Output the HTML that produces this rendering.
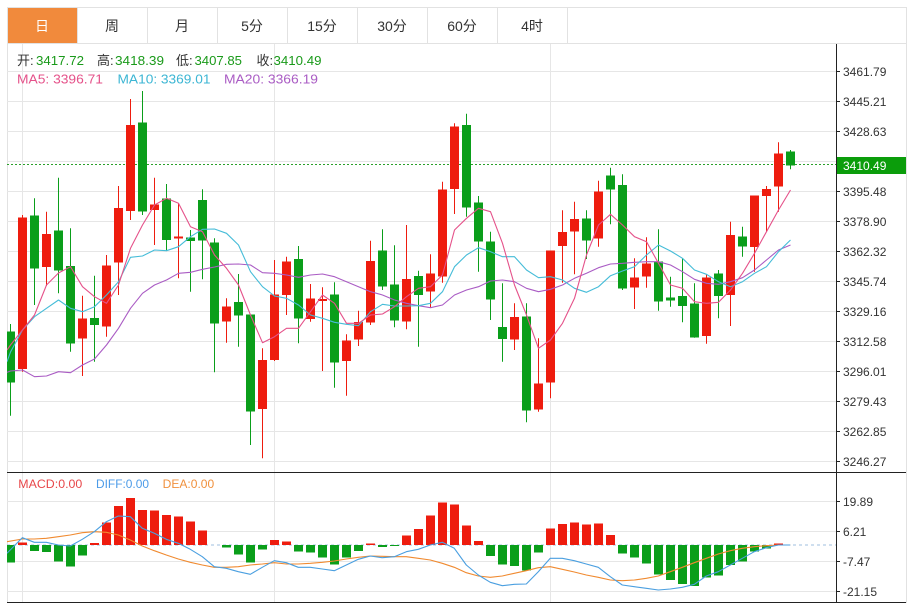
<!DOCTYPE html>
<html><head><meta charset="utf-8"><style>
html,body{margin:0;padding:0;background:#fff}
svg{display:block}
text{font-family:"Liberation Sans","Noto Sans CJK SC",sans-serif}
</style></head><body>
<svg width="914" height="604" viewBox="0 0 914 604" xmlns="http://www.w3.org/2000/svg">
<defs>
<clipPath id="cm"><rect x="7" y="43" width="829" height="429"/></clipPath>
<clipPath id="cd"><rect x="7" y="473" width="829" height="129"/></clipPath>
</defs>
<rect width="914" height="604" fill="#fff"/>
<!-- tabs -->
<rect x="7" y="7" width="70" height="36" fill="#f18a3c"/>
<g stroke="#e2e2e2" stroke-width="1" shape-rendering="crispEdges" fill="none">
<path d="M7 7.5H906M7 43.5H906M7.5 7V603M906.5 7V603M77.5 7V43M147.5 7V43M217.5 7V43M287.5 7V43M357.5 7V43M427.5 7V43M497.5 7V43M567.5 7V43"/>
</g>
<g font-size="14" text-anchor="middle" fill="#333">
<text x="42" y="31" fill="#fff">日</text>
<text x="112" y="31">周</text>
<text x="182" y="31">月</text>
<text x="252" y="31">5分</text>
<text x="322" y="31">15分</text>
<text x="392" y="31">30分</text>
<text x="462" y="31">60分</text>
<text x="532" y="31">4时</text>
</g>
<!-- grid -->
<g stroke="#e6e6e6" stroke-width="1" shape-rendering="crispEdges" fill="none">
<path d="M7 71.5H836M7 101.5H836M7 131.5H836M7 161.5H836M7 191.5H836M7 221.5H836M7 251.5H836M7 281.5H836M7 311.5H836M7 341.5H836M7 371.5H836M7 401.5H836M7 431.5H836M7 461.5H836"/>
<path d="M7 501.5H836M7 531.5H836M7 561.5H836M7 591.5H836"/>
<path d="M22.5 44V602M274.5 44V602M550.5 44V602"/>
</g>
<!-- header text -->
<g font-size="13">
<text x="17" y="65" fill="#333">开:</text><text x="36" y="65" fill="#1a9a1a" textLength="48" lengthAdjust="spacingAndGlyphs">3417.72</text>
<text x="97" y="65" fill="#333">高:</text><text x="115" y="65" fill="#1a9a1a" textLength="49" lengthAdjust="spacingAndGlyphs">3418.39</text>
<text x="176" y="65" fill="#333">低:</text><text x="194.5" y="65" fill="#1a9a1a" textLength="47.5" lengthAdjust="spacingAndGlyphs">3407.85</text>
<text x="256.5" y="65" fill="#333">收:</text><text x="273.5" y="65" fill="#1a9a1a" textLength="48" lengthAdjust="spacingAndGlyphs">3410.49</text>
<text x="17" y="83.5" fill="#e5528a" textLength="86" lengthAdjust="spacingAndGlyphs">MA5: 3396.71</text>
<text x="117.5" y="83.5" fill="#3cb6d4" textLength="93" lengthAdjust="spacingAndGlyphs">MA10: 3369.01</text>
<text x="224" y="83.5" fill="#aa5cc4" textLength="94" lengthAdjust="spacingAndGlyphs">MA20: 3366.19</text>
</g>
<!-- price dotted line -->
<path d="M7 164.5H836" stroke="#2aa02a" stroke-width="1" stroke-dasharray="2,2" shape-rendering="crispEdges"/>
<!-- main chart -->
<g clip-path="url(#cm)">
<g stroke="#ee1c0e" stroke-width="1" fill="none">
<path d="M22.5 215V371.7M46.5 211.7V286M82.5 295.7V376M106.5 255V336.7M118.5 186V295M130.5 99V220M154.5 177.7V245M178.5 203.3V278.3M226.5 298.3V342.7M262.5 348.3V458.3M274.5 260V361M286.5 256.7V315M310.5 284V321.7M322.5 287.3V371M346.5 334.3V395.7M358.5 310.7V346M370.5 240.7V325M406.5 225V329.3M430.5 254.3V307.7M442.5 181.7V282.7M454.5 123.3V214M514.5 303.3V350M538.5 338.3V411.7M550.5 250.7V398.3M562.5 210.3V282.7M574.5 201.7V274.3M598.5 180.7V246.7M634.5 258.3V309M646.5 237.3V287.7M706.5 274V343.7M730.5 221.7V326M754.5 195.7V271.7M766.5 186V231.7M778.5 142.3V211.7"/>
</g>
<g fill="#ee1c0e" shape-rendering="crispEdges">
<rect x="18" y="217.3" width="9" height="151.7"/>
<rect x="42" y="234" width="9" height="33"/>
<rect x="78" y="318.7" width="9" height="19.6"/>
<rect x="102" y="265.3" width="9" height="61.4"/>
<rect x="114" y="208" width="9" height="54.3"/>
<rect x="126" y="125" width="9" height="86"/>
<rect x="150" y="204.3" width="9" height="5.7"/>
<rect x="174" y="236.5" width="9" height="2"/>
<rect x="222" y="306.7" width="9" height="14.6"/>
<rect x="258" y="360" width="9" height="49"/>
<rect x="270" y="294.3" width="9" height="65.7"/>
<rect x="282" y="261.7" width="9" height="33.3"/>
<rect x="306" y="298.3" width="9" height="20.7"/>
<rect x="318" y="299" width="9" height="2"/>
<rect x="342" y="340.7" width="9" height="20.3"/>
<rect x="354" y="322" width="9" height="17.3"/>
<rect x="366" y="261" width="9" height="61.3"/>
<rect x="402" y="279" width="9" height="42.7"/>
<rect x="426" y="273.3" width="9" height="18.4"/>
<rect x="438" y="189.3" width="9" height="87.4"/>
<rect x="450" y="126.7" width="9" height="62.3"/>
<rect x="510" y="317" width="9" height="22.7"/>
<rect x="534" y="383.3" width="9" height="26"/>
<rect x="546" y="250.7" width="9" height="132"/>
<rect x="558" y="232" width="9" height="14"/>
<rect x="570" y="219" width="9" height="12.7"/>
<rect x="594" y="191.7" width="9" height="46.6"/>
<rect x="630" y="277.7" width="9" height="9.6"/>
<rect x="642" y="263.7" width="9" height="13"/>
<rect x="702" y="277.3" width="9" height="58.7"/>
<rect x="726" y="235" width="9" height="60"/>
<rect x="750" y="195.7" width="9" height="51.3"/>
<rect x="762" y="189" width="9" height="7"/>
<rect x="774" y="153.3" width="9" height="33.4"/>
</g>
<g stroke="#0a9e1a" stroke-width="1" fill="none">
<path d="M10.5 324V415.7M34.5 198.3V305M58.5 177.7V293.3M70.5 228.3V351.7M94.5 275.7V361.7M142.5 91V215M166.5 184V250.7M190.5 230V291.7M202.5 189.3V279.3M214.5 238.3V372.3M238.5 274V346.7M250.5 314.7V445M298.5 246V343.3M334.5 282.3V387.7M382.5 229.3V290M394.5 245.3V327.3M418.5 270.7V346.7M466.5 113.7V216.7M478.5 196V271.7M490.5 231.7V320M502.5 283.3V361.7M526.5 303.3V422.3M586.5 210.3V259M610.5 167.7V224.3M622.5 174.3V290M658.5 229.3V310.7M670.5 276.7V306.7M682.5 258.3V322.3M694.5 283.3V337.7M718.5 270V318.3M742.5 226.7V256.7M790.5 150V169.3"/>
</g>
<g fill="#0a9e1a" shape-rendering="crispEdges">
<rect x="6" y="331.7" width="9" height="51"/>
<rect x="30" y="215.3" width="9" height="53.4"/>
<rect x="54" y="230.7" width="9" height="39.6"/>
<rect x="66" y="266" width="9" height="77.7"/>
<rect x="90" y="318" width="9" height="7"/>
<rect x="138" y="122.3" width="9" height="89.4"/>
<rect x="162" y="198.3" width="9" height="41.7"/>
<rect x="186" y="237.7" width="9" height="3.3"/>
<rect x="198" y="200" width="9" height="40.7"/>
<rect x="210" y="242.3" width="9" height="81.4"/>
<rect x="234" y="302" width="9" height="13.3"/>
<rect x="246" y="314.7" width="9" height="97"/>
<rect x="294" y="259" width="9" height="59.3"/>
<rect x="330" y="294.3" width="9" height="68"/>
<rect x="378" y="250.7" width="9" height="36"/>
<rect x="390" y="284.3" width="9" height="36.4"/>
<rect x="414" y="276" width="9" height="19"/>
<rect x="462" y="125" width="9" height="82.7"/>
<rect x="474" y="202.3" width="9" height="39.4"/>
<rect x="486" y="241.7" width="9" height="57.6"/>
<rect x="498" y="327" width="9" height="12"/>
<rect x="522" y="316.3" width="9" height="94.4"/>
<rect x="582" y="218.3" width="9" height="22"/>
<rect x="606" y="175.7" width="9" height="13.6"/>
<rect x="618" y="185" width="9" height="103.3"/>
<rect x="654" y="261.7" width="9" height="40"/>
<rect x="666" y="297.7" width="9" height="2.6"/>
<rect x="678" y="296" width="9" height="10"/>
<rect x="690" y="303.3" width="9" height="34.4"/>
<rect x="714" y="273.7" width="9" height="22.3"/>
<rect x="738" y="236.7" width="9" height="10"/>
<rect x="786" y="151.7" width="9" height="14"/>
</g>
<g fill="none" stroke-width="1.1" stroke-linejoin="round">
<polyline stroke="#aa5cc4" points="7,372.3 10.5,371 22.5,370 34.5,376.7 46.5,376 58.5,371.7 70.5,372.7 82.5,365 94.5,359 106.5,345 118.5,328.3 130.5,308.3 142.5,293.3 154.5,285 166.5,280 178.5,273.3 190.5,272.3 202.5,269.3 214.5,267 226.5,264.3 238.5,264 250.5,265 262.5,272.7 274.5,273.3 286.5,275 298.5,277.3 310.5,275 322.5,274 334.5,276.7 346.5,281.7 358.5,286.7 370.5,291.7 382.5,295 394.5,300 406.5,303.3 418.5,305.7 430.5,307.7 442.5,305 454.5,295 466.5,290 478.5,286.7 490.5,281 502.5,280 514.5,281.7 526.5,288.3 538.5,291.7 550.5,289.3 562.5,285 574.5,278.3 586.5,273.3 598.5,267.7 610.5,264 622.5,263.3 634.5,262.3 646.5,261.7 658.5,261.7 670.5,265 682.5,271.7 694.5,279.3 706.5,283.3 718.5,284.3 730.5,281.7 742.5,277.7 754.5,270 766.5,260 778.5,250 790.5,245"/>
<polyline stroke="#45bcd8" points="7,361.7 10.5,352 22.5,330 34.5,316.7 46.5,308.3 58.5,300 70.5,308.3 82.5,311.7 94.5,306.7 106.5,295 118.5,281.7 130.5,257.3 142.5,256 154.5,250 166.5,250.7 178.5,246.7 190.5,236.7 202.5,229.3 214.5,229 226.5,233.3 238.5,245 250.5,271.7 262.5,286.7 274.5,296 286.5,298.3 298.5,305 310.5,315 322.5,318.3 334.5,322.3 346.5,324.3 358.5,325.7 370.5,311.7 382.5,304.3 394.5,306 406.5,306 418.5,305.7 430.5,303.3 442.5,291.7 454.5,266.7 466.5,255 478.5,247.7 490.5,251.7 502.5,256.7 514.5,256.7 526.5,270 538.5,277.7 550.5,276.7 562.5,280 574.5,288.3 586.5,292.3 598.5,286.7 610.5,275.7 622.5,271 634.5,266.7 646.5,255 658.5,245 670.5,251 682.5,258.3 694.5,270 706.5,274.3 718.5,281.7 730.5,286.7 742.5,281.7 754.5,273.3 766.5,266.7 778.5,251.7 790.5,240"/>
<polyline stroke="#e5528a" points="7,350 10.5,345 22.5,330 34.5,315 46.5,285 58.5,273 70.5,266.7 82.5,286.7 94.5,296.7 106.5,303.3 118.5,285 130.5,248.3 142.5,225 154.5,205 166.5,198.3 178.5,203.3 190.5,226.7 202.5,231.7 214.5,255 226.5,268.3 238.5,285 250.5,315 262.5,342.7 274.5,336.7 286.5,328.3 298.5,328.3 310.5,311.7 322.5,295 334.5,303.3 346.5,323.3 358.5,323.3 370.5,315 382.5,314 394.5,306.7 406.5,296.7 418.5,288.3 430.5,286.7 442.5,275 454.5,230 466.5,218.3 478.5,208.3 490.5,211.7 502.5,243.3 514.5,285 526.5,315 538.5,348.3 550.5,340 562.5,323.3 574.5,298.3 586.5,255 598.5,225 610.5,214.3 622.5,225 634.5,236.7 646.5,241.7 658.5,263.3 670.5,285 682.5,288.3 694.5,301.7 706.5,303.3 718.5,302.3 730.5,290 742.5,273.3 754.5,253.3 766.5,231.7 778.5,210 790.5,190"/>
</g>
</g>
<!-- MACD -->
<g clip-path="url(#cd)">
<path d="M7 545H836" stroke="#9fbfdf" stroke-width="1" stroke-dasharray="3,3"/>
<g fill="#ee1c0e" shape-rendering="crispEdges">
<rect x="18" y="542.7" width="9" height="2.3"/>
<rect x="90" y="543" width="9" height="2"/>
<rect x="102" y="522.3" width="9" height="22.7"/>
<rect x="114" y="506" width="9" height="39"/>
<rect x="126" y="498" width="9" height="47"/>
<rect x="138" y="510" width="9" height="35"/>
<rect x="150" y="510.3" width="9" height="34.7"/>
<rect x="162" y="515" width="9" height="30"/>
<rect x="174" y="516.7" width="9" height="28.3"/>
<rect x="186" y="521.7" width="9" height="23.3"/>
<rect x="198" y="530.3" width="9" height="14.7"/>
<rect x="270" y="540" width="9" height="5"/>
<rect x="282" y="541.3" width="9" height="3.7"/>
<rect x="366" y="543.7" width="9" height="1.3"/>
<rect x="402" y="535.7" width="9" height="9.3"/>
<rect x="414" y="529" width="9" height="16"/>
<rect x="426" y="515.7" width="9" height="29.3"/>
<rect x="438" y="502.3" width="9" height="42.7"/>
<rect x="450" y="504.3" width="9" height="40.7"/>
<rect x="462" y="525.7" width="9" height="19.3"/>
<rect x="474" y="541" width="9" height="4"/>
<rect x="546" y="528.3" width="9" height="16.7"/>
<rect x="558" y="524" width="9" height="21"/>
<rect x="570" y="522.3" width="9" height="22.7"/>
<rect x="582" y="524.7" width="9" height="20.3"/>
<rect x="594" y="523.7" width="9" height="21.3"/>
<rect x="606" y="535" width="9" height="10"/>
<rect x="774" y="543.7" width="9" height="1.3"/>
</g>
<g fill="#0a9e1a" shape-rendering="crispEdges">
<rect x="6" y="545" width="9" height="17.7"/>
<rect x="30" y="545" width="9" height="6"/>
<rect x="42" y="545" width="9" height="7"/>
<rect x="54" y="545" width="9" height="16.7"/>
<rect x="66" y="545" width="9" height="21.7"/>
<rect x="78" y="545" width="9" height="10.7"/>
<rect x="222" y="545" width="9" height="2.3"/>
<rect x="234" y="545" width="9" height="9.3"/>
<rect x="246" y="545" width="9" height="17.3"/>
<rect x="258" y="545" width="9" height="4.3"/>
<rect x="294" y="545" width="9" height="6.3"/>
<rect x="306" y="545" width="9" height="7.3"/>
<rect x="318" y="545" width="9" height="12.7"/>
<rect x="330" y="545" width="9" height="19.3"/>
<rect x="342" y="545" width="9" height="12.7"/>
<rect x="354" y="545" width="9" height="6"/>
<rect x="378" y="545" width="9" height="2"/>
<rect x="390" y="545" width="9" height="1"/>
<rect x="486" y="545" width="9" height="11"/>
<rect x="498" y="545" width="9" height="19.7"/>
<rect x="510" y="545" width="9" height="21"/>
<rect x="522" y="545" width="9" height="25.7"/>
<rect x="534" y="545" width="9" height="7.3"/>
<rect x="618" y="545" width="9" height="8.7"/>
<rect x="630" y="545" width="9" height="12.3"/>
<rect x="642" y="545" width="9" height="18.7"/>
<rect x="654" y="545" width="9" height="29.3"/>
<rect x="666" y="545" width="9" height="35"/>
<rect x="678" y="545" width="9" height="39"/>
<rect x="690" y="545" width="9" height="41"/>
<rect x="702" y="545" width="9" height="32.7"/>
<rect x="714" y="545" width="9" height="30.7"/>
<rect x="726" y="545" width="9" height="20"/>
<rect x="738" y="545" width="9" height="16.7"/>
<rect x="750" y="545" width="9" height="6.7"/>
<rect x="762" y="545" width="9" height="3.3"/>
</g>
<g fill="none" stroke-width="1.1" stroke-linejoin="round">
<polyline stroke="#f08a30" points="7,541.7 22.3,539 34.3,539 46.3,538.3 58.3,536.7 70.3,535 82.3,532.7 94.3,531.7 106.3,532.3 118.3,535 130.3,540 142.3,546 154.3,550.7 166.3,555 178.3,559 190.3,562.3 202.3,565 214.3,567.3 226.3,567.3 238.3,566.7 250.3,565 262.3,564 274.3,562.7 286.3,564 298.3,564 310.3,563.3 322.3,562.3 334.3,561 346.3,559 358.3,557.3 370.3,556 382.3,556.3 394.3,556.7 406.3,556.7 418.3,558.3 430.3,560 442.3,563.3 454.3,567.3 466.3,572.7 478.3,576 490.3,577.3 502.3,576 514.3,573.3 526.3,570.7 538.3,567.7 550.3,566.7 562.3,569.3 574.3,572 586.3,575 598.3,577.3 610.3,580 622.3,580.7 634.3,580 646.3,578.3 658.3,576 670.3,571.7 682.3,567.3 694.3,562.7 706.3,558.3 718.3,554 730.3,550.7 742.3,548.3 754.3,546.7 766.3,545.7 778.3,545 790.3,545"/>
<polyline stroke="#4a9fe0" points="7,553.3 22.3,537.7 34.3,542.3 46.3,542.3 58.3,545 70.3,546 82.3,539.3 94.3,531.7 106.3,521.7 118.3,516 130.3,516.7 142.3,528.3 154.3,533.3 166.3,539.3 178.3,543.3 190.3,549.3 202.3,556.7 214.3,566.7 226.3,568.3 238.3,571.7 250.3,574.3 262.3,567.3 274.3,560.7 286.3,562.7 298.3,567.3 310.3,567.3 322.3,569 334.3,570.7 346.3,565 358.3,559.3 370.3,556 382.3,557.7 394.3,556.7 406.3,551.7 418.3,549.3 430.3,545 442.3,542.3 454.3,548.3 466.3,565 478.3,575 490.3,582.3 502.3,585.7 514.3,584.3 526.3,584 538.3,571.7 550.3,558.3 562.3,558.3 574.3,560.7 586.3,564 598.3,567.3 610.3,576.7 622.3,585 634.3,586.7 646.3,588.3 658.3,590 670.3,589 682.3,587.3 694.3,584.3 706.3,576 718.3,571.7 730.3,565 742.3,558.3 754.3,551.7 766.3,547.7 778.3,545 790.3,545"/>
</g>
</g>
<g font-size="12">
<text x="18.3" y="488" fill="#e8474a" textLength="64" lengthAdjust="spacingAndGlyphs">MACD:0.00</text>
<text x="96" y="488" fill="#4c9be8" textLength="53" lengthAdjust="spacingAndGlyphs">DIFF:0.00</text>
<text x="162.7" y="488" fill="#f0903c" textLength="51.5" lengthAdjust="spacingAndGlyphs">DEA:0.00</text>
</g>
<!-- axes -->
<g stroke="#222" stroke-width="1" shape-rendering="crispEdges" fill="none">
<path d="M836.5 44V602"/>
<path d="M7 472.5H906M7 602.5H906"/>
<path d="M836 71.5H840M836 101.5H840M836 131.5H840M836 191.5H840M836 221.5H840M836 251.5H840M836 281.5H840M836 311.5H840M836 341.5H840M836 371.5H840M836 401.5H840M836 431.5H840M836 461.5H840M836 501.5H840M836 531.5H840M836 561.5H840M836 591.5H840"/>
</g>
<g font-size="12" fill="#333">
<text x="843" y="76">3461.79</text>
<text x="843" y="106">3445.21</text>
<text x="843" y="136">3428.63</text>
<text x="843" y="196">3395.48</text>
<text x="843" y="226">3378.90</text>
<text x="843" y="256">3362.32</text>
<text x="843" y="286">3345.74</text>
<text x="843" y="316">3329.16</text>
<text x="843" y="346">3312.58</text>
<text x="843" y="376">3296.01</text>
<text x="843" y="406">3279.43</text>
<text x="843" y="436">3262.85</text>
<text x="843" y="466">3246.27</text>
<text x="843" y="506">19.89</text>
<text x="843" y="536">6.21</text>
<text x="843" y="566">-7.47</text>
<text x="843" y="596">-21.15</text>
</g>
<rect x="837" y="157" width="69" height="17" fill="#0b9d0b"/>
<text x="843" y="170" font-size="12" fill="#fff">3410.49</text>
</svg>
</body></html>
